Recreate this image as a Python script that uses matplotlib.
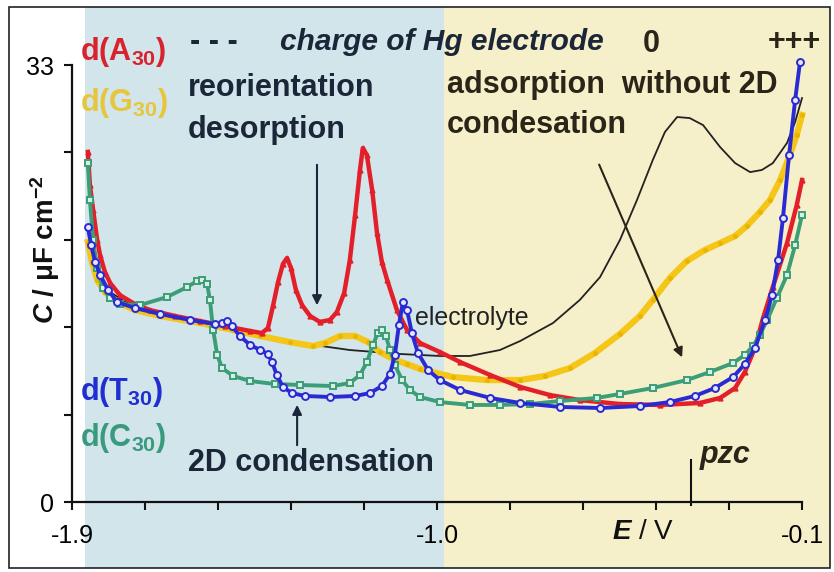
import numpy as np
import matplotlib
matplotlib.use("Agg")
import matplotlib.pyplot as plt
from matplotlib.patches import Rectangle

plt.rcParams['mathtext.fontset'] = 'custom'
plt.rcParams['mathtext.rm'] = 'Liberation Sans:bold'
plt.rcParams['mathtext.it'] = 'Liberation Sans:italic:bold'
plt.rcParams['mathtext.bf'] = 'Liberation Sans:bold'

FONT = ['Liberation Sans', 'DejaVu Sans']

# ---- data (E in V, C in uF cm^-2) ----
E_A = [-1.861, -1.856, -1.848, -1.838, -1.831, -1.819, -1.806, -1.782, -1.745, -1.708,
       -1.646, -1.584, -1.523, -1.461, -1.432, -1.417, -1.404, -1.392, -1.380, -1.370,
       -1.360, -1.348, -1.333, -1.313, -1.289, -1.264, -1.247, -1.229, -1.215, -1.202,
       -1.190, -1.183, -1.173, -1.160, -1.148, -1.136, -1.123, -1.099, -1.074, -1.042,
       -0.993, -0.943, -0.869, -0.795, -0.722, -0.648, -0.549, -0.450, -0.352, -0.302,
       -0.265, -0.241, -0.216, -0.196, -0.172, -0.137, -0.113, -0.100]
C_A = [26.44, 23.94, 22.05, 19.79, 18.66, 17.37, 16.54, 15.63, 14.95, 14.50,
       14.05, 13.67, 13.29, 12.92, 12.76, 13.14, 14.88, 16.62, 17.98, 18.43,
       17.67, 16.01, 14.88, 14.05, 13.60, 13.75, 14.35, 15.79, 18.28, 21.68,
       25.08, 26.74, 26.21, 23.57, 20.32, 18.13, 16.77, 14.50, 12.99, 12.01,
       11.33, 10.57, 9.59, 8.69, 8.08, 7.70, 7.40, 7.33, 7.48, 7.86,
       8.61, 9.82, 11.63, 13.90, 16.24, 19.56, 22.43, 24.32]

E_G = [-1.861, -1.851, -1.838, -1.819, -1.789, -1.745, -1.683, -1.584, -1.503, -1.436,
       -1.363, -1.306, -1.276, -1.239, -1.202, -1.170, -1.141, -1.104, -1.074, -1.042,
       -0.961, -0.877, -0.795, -0.734, -0.672, -0.611, -0.549, -0.500, -0.468, -0.426,
       -0.384, -0.340, -0.302, -0.265, -0.236, -0.204, -0.179, -0.154, -0.130, -0.113,
       -0.100]
C_G = [19.64, 18.13, 16.77, 15.86, 15.11, 14.50, 14.05, 13.52, 12.99, 12.54,
       12.08, 11.78, 12.01, 12.54, 12.54, 12.08, 11.33, 10.73, 10.42, 10.05,
       9.44, 9.21, 9.21, 9.52, 10.12, 11.25, 12.69, 14.05, 15.26, 16.92,
       18.20, 19.03, 19.56, 20.09, 20.85, 21.90, 22.81, 24.32, 26.21, 27.72,
       29.23]

E_T = [-1.861, -1.853, -1.843, -1.831, -1.811, -1.789, -1.745, -1.683, -1.609, -1.547,
       -1.530, -1.518, -1.506, -1.486, -1.461, -1.436, -1.417, -1.407, -1.395, -1.380,
       -1.358, -1.326, -1.264, -1.202, -1.165, -1.136, -1.116, -1.104, -1.094, -1.084,
       -1.074, -1.062, -1.047, -1.022, -0.993, -0.943, -0.869, -0.795, -0.697, -0.598,
       -0.500, -0.426, -0.364, -0.315, -0.270, -0.241, -0.216, -0.191, -0.174, -0.159,
       -0.147, -0.132, -0.117, -0.105]
C_T = [20.77, 19.41, 18.13, 17.15, 16.01, 15.11, 14.65, 14.20, 13.75, 13.44,
       13.52, 13.67, 13.29, 12.54, 11.86, 11.48, 11.18, 10.57, 9.59, 8.69,
       8.23, 8.01, 7.93, 8.01, 8.23, 8.76, 9.67, 11.10, 13.37, 15.11,
       14.50, 12.76, 11.25, 9.97, 9.21, 8.46, 7.86, 7.48, 7.18, 7.10,
       7.25, 7.55, 8.01, 8.61, 9.44, 10.42, 11.63, 13.75, 15.63, 18.28,
       21.45, 26.21, 30.36, 33.23]

E_C = [-1.861, -1.856, -1.848, -1.838, -1.824, -1.806, -1.782, -1.732, -1.666, -1.616,
       -1.592, -1.579, -1.567, -1.560, -1.552, -1.542, -1.530, -1.503, -1.461, -1.400,
       -1.338, -1.257, -1.215, -1.190, -1.173, -1.158, -1.146, -1.136, -1.126, -1.116,
       -1.104, -1.086, -1.067, -1.042, -0.993, -0.919, -0.845, -0.771, -0.697, -0.606,
       -0.549, -0.468, -0.384, -0.327, -0.270, -0.241, -0.221, -0.204, -0.186, -0.162,
       -0.137, -0.117, -0.100]
C_C = [25.60, 22.81, 19.79, 17.67, 16.16, 15.41, 14.95, 14.88, 15.48, 16.24,
       16.69, 16.77, 16.47, 15.26, 12.99, 11.10, 10.12, 9.52, 9.14, 8.91,
       8.84, 8.76, 8.99, 9.59, 10.57, 11.86, 12.76, 12.99, 12.54, 11.48,
       10.35, 9.21, 8.46, 7.93, 7.55, 7.33, 7.33, 7.40, 7.63, 7.86,
       8.16, 8.61, 9.21, 9.82, 10.50, 11.10, 11.78, 12.61, 13.75, 15.41,
       17.15, 19.41, 21.68]

E_el = [-1.861, -1.848, -1.831, -1.806, -1.769, -1.708, -1.584, -1.461, -1.338, -1.215,
        -1.091, -0.993, -0.919, -0.845, -0.795, -0.714, -0.648, -0.598, -0.549, -0.507,
        -0.468, -0.438, -0.408, -0.377, -0.344, -0.302, -0.265, -0.228, -0.199, -0.172,
        -0.137, -0.117, -0.100]
C_el = [20.54, 18.43, 16.92, 15.86, 15.11, 14.43, 13.60, 12.76, 12.01, 11.48,
        11.18, 11.03, 11.03, 11.48, 12.16, 13.52, 15.26, 16.99, 19.79, 22.81,
        25.83, 27.95, 29.08, 29.00, 28.47, 26.81, 25.60, 24.92, 25.08, 25.60,
        27.12, 28.70, 30.51]

x_ticks = np.linspace(-1.9, -0.1, 11)
x_labels = ['-1.9', '', '', '', '', '-1.0', '', '', '', '', '-0.1']
y_ticks = np.linspace(0, 33, 6)
y_labels = ['0', '', '', '', '', '33']
pzc = -0.374

NAVY = '#1b2638'
BROWN = '#2a2519'

fig = plt.figure(figsize=(8.34, 5.72), dpi=100)
fig.patch.set_facecolor('white')

def fxy(x, y):
    return x / 834.0, 1 - y / 572.0

ax = fig.add_axes([10 / 834, 4 / 572, 820 / 834, 561 / 572])
ax.set_xlim(-2.053, -0.031)
ax.set_ylim(-4.985, 37.39)
ax.set_facecolor('white')

ax.axvspan(-1.868, -0.983, color='#d2e5eb', lw=0, zorder=0)
ax.axvspan(-0.983, -0.031, color='#f6f0ca', lw=0, zorder=0)

for s in ['top', 'right']:
    ax.spines[s].set_visible(False)
ax.spines['left'].set_position(('data', -1.9))
ax.spines['left'].set_bounds(0, 33)
ax.spines['bottom'].set_position(('data', 0))
ax.spines['bottom'].set_bounds(-1.9, -0.1)
for s in ['left', 'bottom']:
    ax.spines[s].set_linewidth(1.6)
    ax.spines[s].set_color('#111111')
    ax.spines[s].set_zorder(5)

ax.set_xticks(x_ticks)
ax.set_xticklabels(x_labels, family=FONT, fontsize=18)
ax.set_yticks(y_ticks)
ax.set_yticklabels(y_labels, family=FONT, fontsize=18)
ax.tick_params(axis='x', direction='out', length=6, width=1.5, pad=10, color='#111111')
ax.tick_params(axis='y', direction='out', length=6, width=1.5, pad=7, color='#111111')

# curves
ax.plot(E_el, C_el, color='#222222', lw=1.3, zorder=2)
ax.plot(E_G, C_G, color='#f5c518', lw=4.5, marker='o', ms=2.5, mfc='#e8b400',
        mec='#e8b400', zorder=3)
ax.plot(E_A, C_A, color='#e3202a', lw=3.2, marker='^', ms=3.5, zorder=3)
ax.plot(E_C, C_C, color='#3b9e78', lw=2.8, marker='s', ms=5, mfc='#d9efe3',
        mec='#3b9e78', mew=1.4, zorder=3)
ax.plot(E_T, C_T, color='#2a2ad2', lw=2.8, marker='o', ms=5, mfc='#e6e6ff',
        mec='#2a2ad2', mew=1.4, zorder=4)

# arrows
arw = dict(arrowstyle='-|>', color=NAVY, lw=1.5, mutation_scale=14)
ax.annotate('', xy=(-1.296, 14.65), xytext=(-1.296, 25.68), arrowprops=arw, zorder=6)
ax.annotate('', xy=(-1.345, 7.55), xytext=(-1.345, 4.08), arrowprops=arw, zorder=6)
ax.annotate('', xy=(-0.393, 10.73), xytext=(-0.603, 25.68),
            arrowprops=dict(arrowstyle='-|>', color=BROWN, lw=1.5, mutation_scale=14), zorder=6)
ax.plot([pzc, pzc], [-0.25, 3.17], color='#111111', lw=1.5, zorder=6)

# frame
fig.patches.append(Rectangle((9 / 834, 4 / 572), 821 / 834, 561 / 572, transform=fig.transFigure,
                             fill=False, ec='#222222', lw=1.2))

big = dict(family=FONT, fontsize=22, fontweight='bold', va='center', ha='left')
fig.text(*fxy(80, 52), 'd(A$_{30}$)', color='#d8232f', **big)
fig.text(*fxy(80, 103), 'd(G$_{30}$)', color='#e6c63c', **big)
fig.text(*fxy(80, 392), 'd(T$_{30}$)', color='#1f2fd0', **big)
fig.text(*fxy(80, 438), 'd(C$_{30}$)', color='#3a9a7e', **big)
fig.text(*fxy(190, 42), '- - -', color=NAVY, **big)
fig.text(*fxy(280, 42), 'charge of Hg electrode', color=NAVY, style='italic',
         **{**big, 'fontsize': 21.5})
fig.text(*fxy(643, 44), '0', color=BROWN, **big)
fig.text(*fxy(768, 42), '+++', color=BROWN, **big)
fig.text(*fxy(188, 88), 'reorientation', color=NAVY, **big)
fig.text(*fxy(188, 130), 'desorption', color=NAVY, **big)
fig.text(*fxy(447, 85), 'adsorption  without 2D', color=BROWN, **big)
fig.text(*fxy(447, 125), 'condesation', color=BROWN, **big)
fig.text(*fxy(188, 463), '2D condensation', color=NAVY, **big)
fig.text(*fxy(700, 455), 'pzc', color=BROWN, style='italic', **big)
fig.text(*fxy(415, 318), 'electrolyte', color='#222222', family=FONT, fontsize=18,
         va='center', ha='left')
fig.text(*fxy(612, 532), '$\\mathit{E}$ / V', color='#111111', family=FONT, fontsize=20,
         va='center', ha='left')
fig.text(*fxy(45, 250), '$\\mathit{C}$ / \u03bcF cm$^{-2}$', color='#111111', family=FONT,
         fontsize=20, fontweight='bold', rotation=90, va='center', ha='center')

fig.savefig('out.png', dpi=100)
